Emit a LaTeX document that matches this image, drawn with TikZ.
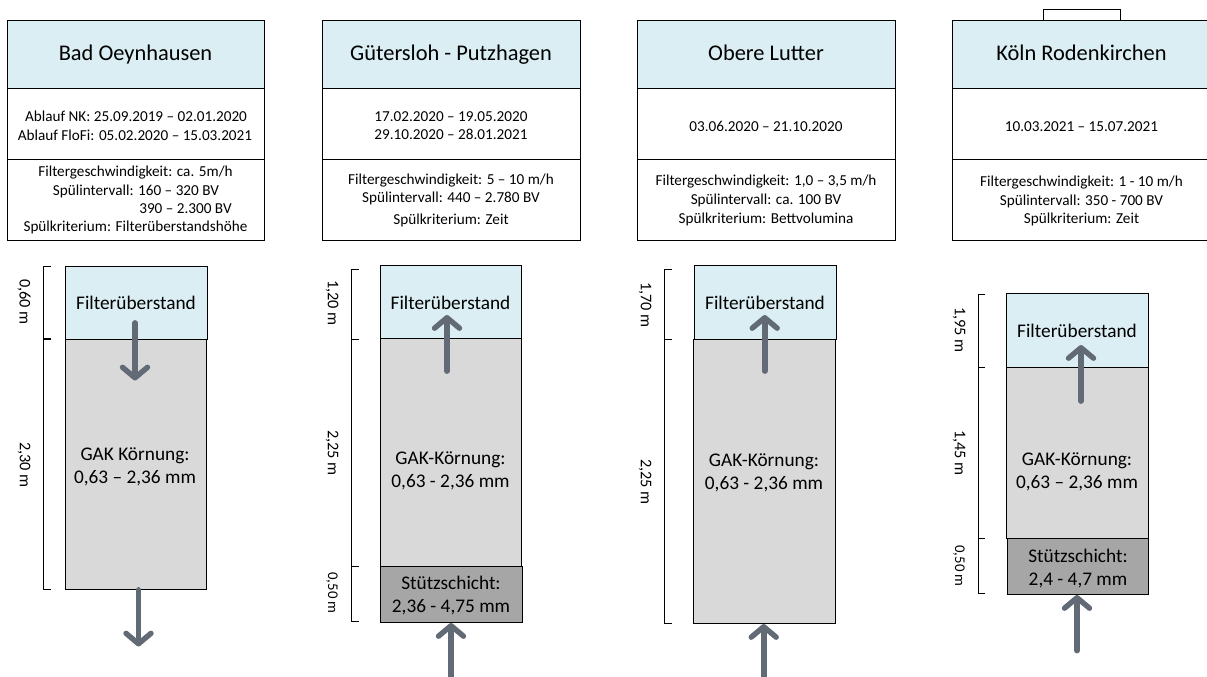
\documentclass[tikz,border=0pt]{standalone}
\usepackage{fontspec}
\setmainfont{Carlito}
\usetikzlibrary{arrows.meta}
\definecolor{hblue}{HTML}{DAEEF3}
\definecolor{bedgrey}{HTML}{D9D9D9}
\definecolor{supgrey}{HTML}{A6A6A6}
\definecolor{flowc}{HTML}{626A75}
\tikzset{
  px/.style={inner sep=0pt,outer sep=0pt,draw=black,line width=0.9pt,anchor=north west},
  head/.style={px,fill=hblue,minimum width=#1,minimum height=68.5pt},
  dates/.style={px,fill=white,minimum width=#1,minimum height=71pt},
  params/.style={px,fill=white,minimum width=#1,minimum height=80.5pt},
  title/.style={inner sep=0pt,anchor=base,font=\fontsize{22.4}{26}\selectfont},
  info/.style={inner sep=0pt,anchor=base,font=\fontsize{15.2}{18}\selectfont},
  layer/.style={inner sep=0pt,align=center,font=\fontsize{19.3}{23}\selectfont},
  dim/.style={inner sep=0pt,rotate=-90,font=\fontsize{16.3}{19}\selectfont},
  dimsmall/.style={dim,font=\fontsize{14.8}{17}\selectfont},
  brace/.style={draw=black,line width=0.8pt},
  flow/.style={draw=flowc,line width=5.8pt,line cap=round,line join=round,
    -{Straight Barb[width=25pt,length=10.5pt,round,line width=5.4pt]}},
}
\newcommand{\lay}[6]{% name, x0, y0, x1, y1, fill
  \node[px,fill=#6,minimum width=#4pt-#2pt,minimum height=#5pt-#3pt] (#1) at (#2,#3) {};}
\begin{document}
\begin{tikzpicture}[x=1pt,y=-1pt]
\useasboundingbox (0,0) rectangle (1207,677);
\clip (0,0) rectangle (1207,677);

% --- header tables
\node[head=257.5pt] (h1) at (7,20) {};
\node[dates=257.5pt] (d1) at (7,88.5) {};
\node[params=257.5pt] (p1) at (7,159.5) {};
\node[head=258pt] (h2) at (322,20) {};
\node[dates=258pt] (d2) at (322,88.5) {};
\node[params=258pt] (p2) at (322,159.5) {};
\node[head=258pt] (h3) at (637,20) {};
\node[dates=258pt] (d3) at (637,88.5) {};
\node[params=258pt] (p3) at (637,159.5) {};
\node[head=262pt] (h4) at (952.5,20) {};
\node[dates=262pt] (d4) at (952.5,88.5) {};
\node[params=262pt] (p4) at (952.5,159.5) {};
\node[px,fill=white,minimum width=77.5pt,minimum height=11pt] (tab) at (1043,9) {};

\node[title] (t1) at (135.5,61) {Bad Oeynhausen};
\node[title] (t2) at (451,61) {Gütersloh - Putzhagen};
\node[title] (t3) at (766,61) {Obere Lutter};
\node[title] (t4) at (1081.5,61) {Köln Rodenkirchen};

\node[info] at (136,121.7) {Ablauf NK: 25.09.2019 – 02.01.2020};
\node[info] at (135,140.7) {Ablauf FloFi: 05.02.2020 – 15.03.2021};
\node[info] at (135.5,176.7) {Filtergeschwindigkeit: ca. 5m/h};
\node[info] at (136,195) {Spülintervall: 160 – 320 BV};
\node[info] at (185.5,213.3) {390 – 2.300 BV};
\node[info] at (135.5,231.7) {Spülkriterium: Filterüberstandshöhe};

\node[info] at (451,121.7) {17.02.2020 – 19.05.2020};
\node[info] at (451,139.5) {29.10.2020 – 28.01.2021};
\node[info] at (451,184.5) {Filtergeschwindigkeit: 5 – 10 m/h};
\node[info] at (451,202.5) {Spülintervall: 440 – 2.780 BV};
\node[info] at (451,224) {Spülkriterium: Zeit};

\node[info] at (766,131.7) {03.06.2020 – 21.10.2020};
\node[info] at (766,185.7) {Filtergeschwindigkeit: 1,0 – 3,5 m/h};
\node[info] at (766,204) {Spülintervall: ca. 100 BV};
\node[info] at (766,223.3) {Spülkriterium: Bettvolumina};

\node[info] at (1081.5,131.7) {10.03.2021 – 15.07.2021};
\node[info] at (1081.5,186.7) {Filtergeschwindigkeit: 1 - 10 m/h};
\node[info] at (1081.5,205) {Spülintervall: 350 - 700 BV};
\node[info] at (1081.5,223.3) {Spülkriterium: Zeit};

% --- filter columns
\lay{a1}{65}{266}{207}{339}{hblue}
\lay{b1}{65}{339}{206.5}{589.5}{bedgrey}
\lay{a2}{380}{265}{521.5}{338.5}{hblue}
\lay{b2}{380}{338.5}{521.5}{566.5}{bedgrey}
\lay{c2}{380.5}{566.5}{522}{622.5}{supgrey}
\lay{a3}{694}{265.5}{836}{339.5}{hblue}
\lay{b3}{693.5}{339.5}{835}{623.5}{bedgrey}
\lay{a4}{1006.5}{293.5}{1148}{367}{hblue}
\lay{b4}{1006.5}{367}{1148}{538.5}{bedgrey}
\lay{c4}{1007}{538.5}{1148.5}{594}{supgrey}

\node[layer] at (136,302.8) {Filterüberstand};
\node[layer] at (135,466.5) {GAK Körnung:\\0,63 – 2,36 mm};
\node[layer] at (450.5,302.8) {Filterüberstand};
\node[layer] at (450.5,471) {GAK-Körnung:\\0,63 - 2,36 mm};
\node[layer] at (451,595.5) {Stützschicht:\\2,36 - 4,75 mm};
\node[layer] at (765,302.8) {Filterüberstand};
\node[layer] at (764,472.5) {GAK-Körnung:\\0,63 - 2,36 mm};
\node[layer] at (1077,330.8) {Filterüberstand};
\node[layer] at (1077,471.5) {GAK-Körnung:\\0,63 – 2,36 mm};
\node[layer] at (1078,568.5) {Stützschicht:\\2,4 - 4,7 mm};

% --- flow arrows
\coordinate (f1s) at (135,323); \coordinate (f1e) at (135,380.5);
\coordinate (o1s) at (138.5,590); \coordinate (o1e) at (138.5,646.5);
\coordinate (f2s) at (447,371); \coordinate (f2e) at (447,315);
\coordinate (o2s) at (451,680); \coordinate (o2e) at (451,623);
\coordinate (f3s) at (764.7,371); \coordinate (f3e) at (764.7,315);
\coordinate (o3s) at (763.7,680); \coordinate (o3e) at (763.7,624);
\coordinate (f4s) at (1081,401); \coordinate (f4e) at (1081,345);
\coordinate (o4s) at (1077,650.5); \coordinate (o4e) at (1077,595);
\foreach \p/\q in {f1s/f1e,o1s/o1e,f2s/f2e,o2s/o2e,f3s/f3e,o3s/o3e,f4s/f4e,o4s/o4e}
  \draw[flow] (\p) -- (\q);

% --- dimension brackets
\newcommand{\brk}[4]{\draw[brace] (#1+7,#2) -- (#1,#2) -- (#1,#3) -- (#1+7,#3);}
\brk{43.5}{266}{338}{}
\brk{43.5}{339}{589}{}
\brk{351.5}{269}{339}{}
\brk{351.5}{339.5}{566.5}{}
\brk{351.5}{566.5}{621.5}{}
\brk{664.5}{269.5}{339.5}{}
\brk{664.5}{339.5}{623.5}{}
\brk{978}{294.5}{367}{}
\brk{978}{367}{538.5}{}
\brk{978}{538.5}{593.5}{}

\node[dim] at (24,302) {0,60 m};
\node[dim] at (24,465) {2,30 m};
\node[dim] at (332,303) {1,20 m};
\node[dim] at (332,453) {2,25 m};
\node[dimsmall] at (332,593) {0,50 m};
\node[dim] at (645,305) {1,70 m};
\node[dim] at (645,482) {2,25 m};
\node[dim] at (959,330) {1,95 m};
\node[dim] at (959,453) {1,45 m};
\node[dimsmall] at (959,566) {0,50 m};
\end{tikzpicture}
\end{document}
